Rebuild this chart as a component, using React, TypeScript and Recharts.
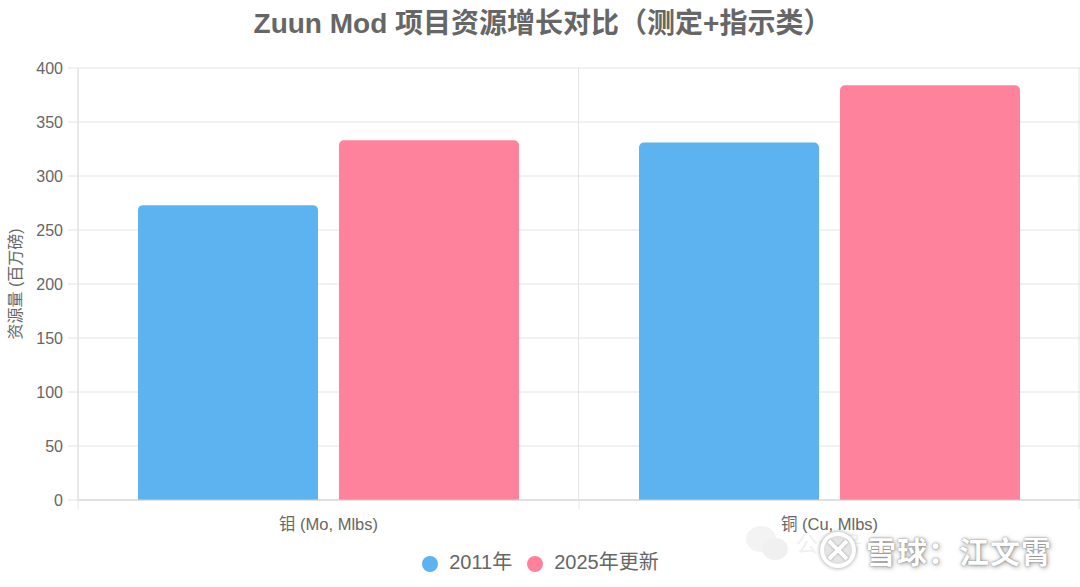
import { BarChart, Bar, XAxis, YAxis, CartesianGrid, Legend } from "recharts";

const FONT = '"Liberation Sans", "Noto Sans CJK SC", sans-serif';

const categories = ["钼 (Mo, Mlbs)", "铜 (Cu, Mlbs)"];
const values2011 = [273, 331];
const values2025 = [333, 384];
const yTicks = [0, 50, 100, 150, 200, 250, 300, 350, 400];

const data = categories.map((name, i) => ({
  name,
  y2011: values2011[i],
  y2025: values2025[i],
}));

// ticks sit on the band edges, label stays centred
const CategoryTick = ({ x, y, payload, index, visibleTicksCount }: any) => {
  const half = payload.offset ?? 250;
  const last = index === visibleTicksCount - 1;
  return (
    <g>
      <line x1={x - half} x2={x - half} y1={y - 9} y2={y + 1} stroke="#e4e4e4" />
      {last && <line x1={x + half - 1} x2={x + half - 1} y1={y - 9} y2={y + 1} stroke="#e4e4e4" />}
      <text x={x} y={y + 22} textAnchor="middle" fontSize={16.5} fill="#666" fontFamily={FONT}>
        {payload.value}
      </text>
    </g>
  );
};

export default function App() {
  return (
    <div style={{ position: "absolute", left: 0, top: 0, width: 1080, height: 587, background: "#fff", overflow: "hidden", fontFamily: FONT }}>
      <div style={{ position: "absolute", top: 6, left: 0, width: 1085, textAlign: "center", fontSize: 28, fontWeight: "bold", color: "#666", lineHeight: "36px" }}>
        Zuun Mod 项目资源增长对比（测定+指示类）
      </div>
      <div style={{ position: "absolute", top: 42, left: 0 }}>
        <BarChart
          width={1080}
          height={545}
          data={data}
          margin={{ top: 26, right: 0, left: 0, bottom: 0 }}
          barCategoryGap={60}
          barGap={21}
        >
          <CartesianGrid
            stroke="#e4e4e4"
            verticalCoordinatesGenerator={({ offset }: any) => [
              offset.left,
              offset.left + offset.width / 2 - 0.5,
              offset.left + offset.width - 1,
            ]}
          />
          <XAxis
            dataKey="name"
            height={58}
            axisLine={{ stroke: "#d0d0d0" }}
            tickLine={false}
            interval={0}
            tick={<CategoryTick />}
          />
          <YAxis
            domain={[0, 400]}
            ticks={yTicks}
            width={78}
            tickSize={10}
            tickMargin={5}
            axisLine={{ stroke: "#e0e0e0" }}
            tickLine={{ stroke: "#e4e4e4" }}
            tick={{ fontSize: 16, fill: "#666", fontFamily: FONT }}
            label={{
              value: "资源量 (百万磅)",
              angle: -90,
              position: "insideLeft",
              offset: 15,
              style: { fontSize: 16, fill: "#666", fontFamily: FONT, textAnchor: "middle" },
            }}
          />
          <Legend
            verticalAlign="bottom"
            iconType="circle"
            iconSize={16}
            wrapperStyle={{ fontSize: 20, bottom: 12, left: 8, fontFamily: FONT }}
            formatter={(v: any) => <span style={{ color: "#666", marginLeft: 7, marginRight: 5 }}>{v}</span>}
          />
          <Bar dataKey="y2011" name="2011年" fill="#5DB3EF" radius={[5, 5, 0, 0]} isAnimationActive={false} />
          <Bar dataKey="y2025" name="2025年更新" fill="#FF829D" radius={[5, 5, 0, 0]} isAnimationActive={false} />
        </BarChart>
      </div>
      {/* watermark */}
      <div style={{ position: "absolute", left: 796, top: 526, fontSize: 22, color: "#f0f0f0", whiteSpace: "nowrap" }}>
        公众号
      </div>
      <svg width={120} height={50} style={{ position: "absolute", left: 745, top: 525 }}>
        <ellipse cx={16} cy={14} rx={15} ry={13} fill="#f3f3f3" />
        <ellipse cx={30} cy={24} rx={13} ry={11} fill="#f0f0f0" />
        <circle cx={93} cy={25} r={16} fill="#fff" fillOpacity={0.6} stroke="#fff" strokeWidth={4} style={{ filter: "drop-shadow(0 0 2px #999)" }} />
        <path d="M84 16 L93 25 L84 34 M102 16 L93 25 L102 34" fill="none" stroke="#fff" strokeWidth={4} style={{ filter: "drop-shadow(0 0 1px #999)" }} />
      </svg>
      <div style={{ position: "absolute", left: 866, top: 528, fontSize: 30, fontWeight: "bold", color: "#fff", letterSpacing: 1, textShadow: "0 0 2px #777, 1px 1px 5px #999", whiteSpace: "nowrap" }}>
        雪球：江文霄
      </div>
    </div>
  );
}
